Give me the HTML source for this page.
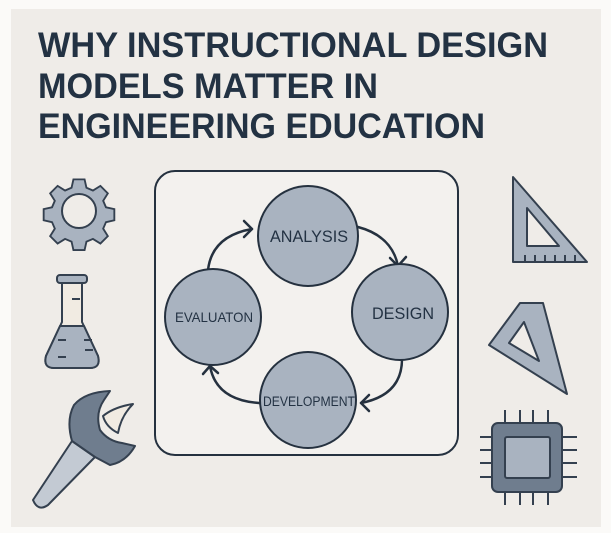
<!DOCTYPE html>
<html><head><meta charset="utf-8"><style>
html,body{margin:0;padding:0;background:#fff;}
svg{display:block}
</style></head><body>
<svg width="611" height="533" viewBox="0 0 611 533" xmlns="http://www.w3.org/2000/svg">
<rect x="0" y="0" width="611" height="533" fill="#fbfaf8"/>
<rect x="11" y="9" width="590" height="518" fill="#efece8"/>
<g font-family="Liberation Sans, sans-serif" font-weight="bold" fill="#233243" font-size="35">
<text x="38" y="57" textLength="510" lengthAdjust="spacingAndGlyphs">WHY INSTRUCTIONAL DESIGN</text>
<text x="38" y="98" textLength="340" lengthAdjust="spacingAndGlyphs">MODELS MATTER IN</text>
<text x="38" y="138" textLength="447" lengthAdjust="spacingAndGlyphs">ENGINEERING EDUCATION</text>
</g>
<g stroke="#25313f" stroke-width="2" fill="#a9b3c0">
<rect x="155" y="171" width="303" height="284" rx="20" fill="#f3f1ee"/>
<g fill="none" stroke-width="2.5" stroke-linecap="round" stroke-linejoin="round">
<path d="M208 270 Q212 236 252 229"/>
<path d="M244 221 L252 229 L244 237"/>
<path d="M358 227 Q392 236 398 266"/>
<path d="M390 258 L398 266 L406 257"/>
<path d="M402 359 Q402 395 361 403"/>
<path d="M369 395 L361 403 L369 411"/>
<path d="M259 403 Q216 400 210 366"/>
<path d="M203 374 L210 366 L218 373"/>
</g>
<circle cx="308" cy="236" r="50"/>
<circle cx="400" cy="312" r="48"/>
<circle cx="308" cy="400" r="48"/>
<circle cx="213" cy="317" r="48"/>
</g>
<g font-family="Liberation Sans, sans-serif" fill="#233243" text-anchor="middle">
<text x="309" y="242" font-size="17" textLength="78" lengthAdjust="spacingAndGlyphs">ANALYSIS</text>
<text x="403" y="319" font-size="17" textLength="62" lengthAdjust="spacingAndGlyphs">DESIGN</text>
<text x="309" y="406" font-size="14" textLength="92" lengthAdjust="spacingAndGlyphs">DEVELOPMENT</text>
<text x="214" y="322" font-size="14" textLength="78" lengthAdjust="spacingAndGlyphs">EVALUATON</text>
</g>
<!-- gear -->
<g fill="#a9b3c0" stroke="#34404f" stroke-width="2">
<path transform="translate(79 211) scale(0.93) translate(-80 -212)" d="M74 178h12l2 9 7 3 8-5 8 8-5 8 3 7 9 2v12l-9 2-3 7 5 8-8 8-8-5-7 3-2 9h-12l-2-9-7-3-8 5-8-8 5-8-3-7-9-2v-12l9-2 3-7-5-8 8-8 8 5 7-3z"/>
<circle cx="79" cy="211" r="17" fill="#efece8"/>
</g>
<!-- flask -->
<g stroke="#34404f" stroke-width="2">
<path d="M62 282 V322 L46 356 Q43 368 54 368 H90 Q101 368 98 356 L82 322 V282 Z" fill="#f1ebe2"/>
<path d="M60 326 L46 356 Q43 368 54 368 H90 Q101 368 98 356 L84 326 Z" fill="#a9b3c0"/>
<rect x="57" y="275" width="30" height="8" rx="3" fill="#a9b3c0"/>
<path d="M72 299h8 M58 340h8 M84 340h8 M58 357h8 M85 350h8" fill="none"/>
</g>
<!-- wrench -->
<g stroke="#34404f" stroke-width="2" stroke-linejoin="round">
<path d="M72 441 L95 457 L48 505 Q38 512 33 500 Z" fill="#c3cad3"/>
<path d="M72 441 Q66 420 74 405 Q85 392 110 391 L104 400 Q95 413 100 430 Q108 441 122 443 L135 446 Q126 462 110 465 L95 457 Z" fill="#6f7d8e"/>
<path d="M103 416 Q114 407 133 404 Q121 416 118 433 Q106 427 103 416 Z" fill="#f1ebe2"/>
</g>
<!-- triangle 1 -->
<g stroke="#34404f" stroke-width="2" fill="#a9b3c0" stroke-linejoin="round">
<path d="M513 177 V262 H587 Z"/>
<path d="M527 208 V246 H559 Z" fill="#efece8"/>
<path d="M525 255v7 M535 255v7 M545 255v7 M555 255v7 M565 255v7 M575 255v7" fill="none"/>
<!-- triangle 2 -->
<path d="M520 303 H543 L567 394 L489 345 Z"/>
<path d="M524 322 L539 361 L509 343 Z" fill="#efece8"/>
</g>
<!-- chip -->
<g stroke="#34404f" stroke-width="2">
<path d="M505 410v13 M520 410v13 M533 410v13 M548 410v13 M505 492v13 M520 492v13 M533 492v13 M548 492v13 M480 437h12 M480 450h12 M480 463h12 M480 477h12 M562 437h15 M562 450h15 M562 463h15 M562 477h15" fill="none"/>
<rect x="492" y="423" width="70" height="69" rx="6" fill="#6f7d8e"/>
<rect x="505" y="437" width="45" height="41" rx="2" fill="#a9b3c0"/>
</g>
</svg>
</body></html>
